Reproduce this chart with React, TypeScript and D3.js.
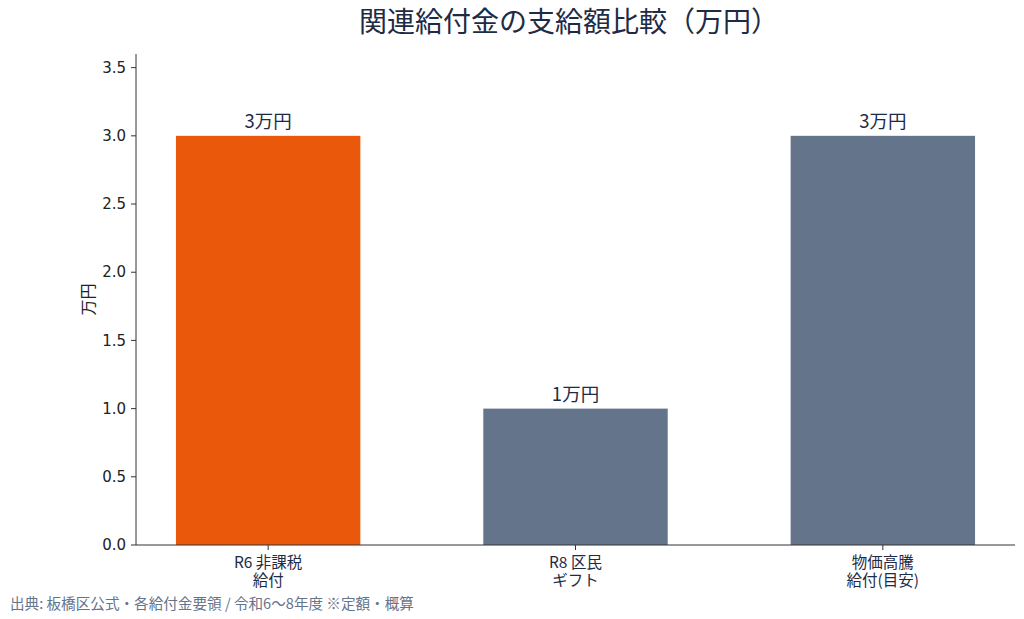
import React from "react";
import * as d3 from "d3";

const categories = ["R6 非課税\n給付", "R8 区民\nギフト", "物価高騰\n給付(目安)"];
const values = [3, 1, 3];
const valueLabels = ["3万円", "1万円", "3万円"];
const barColors = ["#EA580C", "#64748B", "#64748B"];
const yTicks = [0, 0.5, 1.0, 1.5, 2.0, 2.5, 3.0, 3.5];
const title = "関連給付金の支給額比較（万円）";
const yLabel = "万円";
const footer = "出典: 板橋区公式・各給付金要領 / 令和6〜8年度 ※定額・概算";

const W = 1024;
const H = 619;
const left = 136;
const right = 1015;
const top = 54;
const bottom = 545;
const JP = "'Noto Sans CJK JP', 'DejaVu Sans', sans-serif";
const NUM = "'DejaVu Sans', 'Noto Sans CJK JP', sans-serif";
const TEXT = "#1E2B45";

export default function App() {
  const x = d3.scaleLinear().domain([-0.43, 2.43]).range([left, right]);
  const y = d3.scaleLinear().domain([0, 3.6]).range([bottom, top]);
  const bw = x(0.3) - x(0);
  return (
    <svg width={W} height={H} style={{ position: "absolute", left: 0, top: 0, background: "#fff" }}>
      <text x={569} y={32} textAnchor="middle" fontFamily={JP} fontSize={28} fill={TEXT}>
        {title}
      </text>
      {values.map((v, i) => (
        <rect key={i} x={x(i) - bw} y={y(v)} width={bw * 2} height={y(0) - y(v)} fill={barColors[i]} />
      ))}
      {values.map((v, i) => (
        <text key={"v" + i} x={x(i)} y={y(v) - 8} textAnchor="middle" fontFamily={JP} fontSize={18.5} fill={TEXT}>
          {valueLabels[i]}
        </text>
      ))}
      <line x1={left} x2={left} y1={top} y2={bottom} stroke="#333" strokeWidth={1} />
      <line x1={left} x2={right} y1={bottom} y2={bottom} stroke="#333" strokeWidth={1} />
      {yTicks.map((t) => (
        <g key={t}>
          <line x1={left - 5} x2={left} y1={y(t)} y2={y(t)} stroke="#333" />
          <text x={left - 10} y={y(t)} dy="0.35em" textAnchor="end" fontFamily={NUM} fontSize={15} fill="#222">
            {t.toFixed(1)}
          </text>
        </g>
      ))}
      {categories.map((c, i) => (
        <g key={"c" + i}>
          <line x1={x(i)} x2={x(i)} y1={bottom} y2={bottom + 5} stroke="#333" />
          <text x={x(i)} y={bottom + 22.5} textAnchor="middle" fontFamily={JP} fontSize={15.5} fill={TEXT}>
            {c.split("\n").map((ln, j) => (
              <tspan key={j} x={x(i)} dy={j === 0 ? 0 : 18}>
                {ln}
              </tspan>
            ))}
          </text>
        </g>
      ))}
      <text transform={`translate(94,${(top + bottom) / 2}) rotate(-90)`} textAnchor="middle" fontFamily={JP} fontSize={16} fill="#222">
        {yLabel}
      </text>
      <text x={10} y={609} fontFamily={JP} fontSize={14.6} fill="#64748B">
        {footer}
      </text>
    </svg>
  );
}
